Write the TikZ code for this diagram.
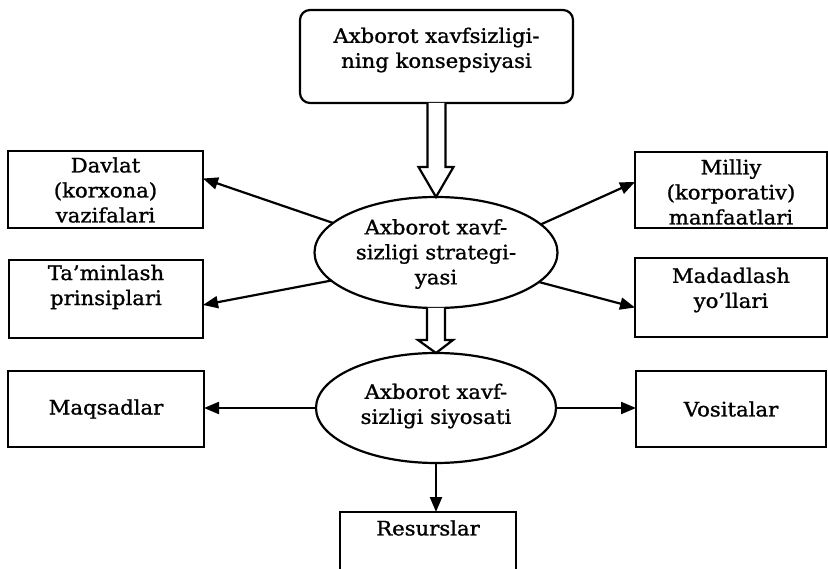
\documentclass[tikz,border=0pt]{standalone}
\usepackage{fontspec}
\setmainfont[FakeStretch=1.06,FakeBold=1.2]{DejaVu Serif}
\usetikzlibrary{arrows.meta,shapes.geometric,calc}
\begin{document}
\begin{tikzpicture}[x=1pt,y=-1pt,
  every node/.style={inner sep=0pt,outer sep=0pt},
  txt/.style={font=\fontsize{20}{25}\selectfont,align=center},
  box/.style={draw,line width=2.2pt},
  ell/.style={draw,line width=2.2pt,ellipse},
  arr/.style={line width=2.2pt,-{Triangle[length=15pt,width=12pt]}},
  hollow/.style={draw,line width=2.2pt,fill=white,line join=miter}]
\useasboundingbox (0,0) rectangle (828,569);
\clip (0,0) rectangle (828,569);
% boxes
\node[box,rounded corners=10pt,minimum width=273pt,minimum height=93pt] (top) at (436.5,56.5) {};
\node[txt] (toptxt) at (436.5,50) {Axborot xavfsizligi-\\ning konsepsiyasi};
\node[box,minimum width=195pt,minimum height=77pt] (dav) at (105.5,189.5) {};
\node[txt] (davtxt) at (105.5,190) {Davlat\\(korxona)\\vazifalari};
\node[box,minimum width=194pt,minimum height=78pt] (tam) at (106,299) {};
\node[txt] (tamtxt) at (106,287) {Ta'minlash\\prinsiplari};
\node[box,minimum width=192pt,minimum height=76pt] (mil) at (731,190) {};
\node[txt] (miltxt) at (731,192) {Milliy\\(korporativ)\\manfaatlari};
\node[box,minimum width=192pt,minimum height=79pt] (mad) at (731,297.5) {};
\node[txt] (madtxt) at (731,290) {Madadlash\\yo'llari};
\node[box,minimum width=196pt,minimum height=76pt] (maq) at (106,409) {};
\node[txt] (maqtxt) at (106,409) {Maqsadlar};
\node[box,minimum width=190pt,minimum height=76pt] (vos) at (731,409) {};
\node[txt] (vostxt) at (731,409) {Vositalar};
\node[box,minimum width=176pt,minimum height=80pt] (res) at (428,552) {};
\node[txt] (restxt) at (428,528) {Resurslar};
% ellipses
\node[ell,minimum width=243pt,minimum height=111pt] (e1) at (436,252.5) {};
\node[txt] (e1txt) at (436,254) {Axborot xavf-\\sizligi strategi-\\yasi};
\node[ell,minimum width=240pt,minimum height=110pt] (e2) at (436,408) {};
\node[txt] (e2txt) at (436,406) {Axborot xavf-\\sizligi siyosati};
% hollow arrows
\draw[hollow] ($(top.south)+(-9,0)$) -- ++(0,64) -- ++(-9,0) -- (e1.north) -- ($(top.south)+(17,64)$) -- ++(-8,0) -- ($(top.south)+(9,0)$);
\draw[hollow] ($(e1.south)+(-9,0)$) -- ++(0,32) -- ++(-9,0) -- (e2.north) -- ($(e1.south)+(17,32)$) -- ++(-8,0) -- ($(e1.south)+(9,0)$);
% arrows
\draw[arr] (e1.164) -- ([yshift=11pt]dav.east);
\draw[arr] (e1.195) -- ([yshift=-6pt]tam.east);
\draw[arr] (e1.15) -- ([yshift=8pt]mil.west);
\draw[arr] (e1.344) -- ([yshift=-10pt]mad.west);
\draw[arr] (e2.west) -- (e2.west -| maq.east);
\draw[arr] (e2.east) -- (e2.east -| vos.west);
\draw[arr] (e2.south) -- (e2.south |- res.north);
\end{tikzpicture}
\end{document}
